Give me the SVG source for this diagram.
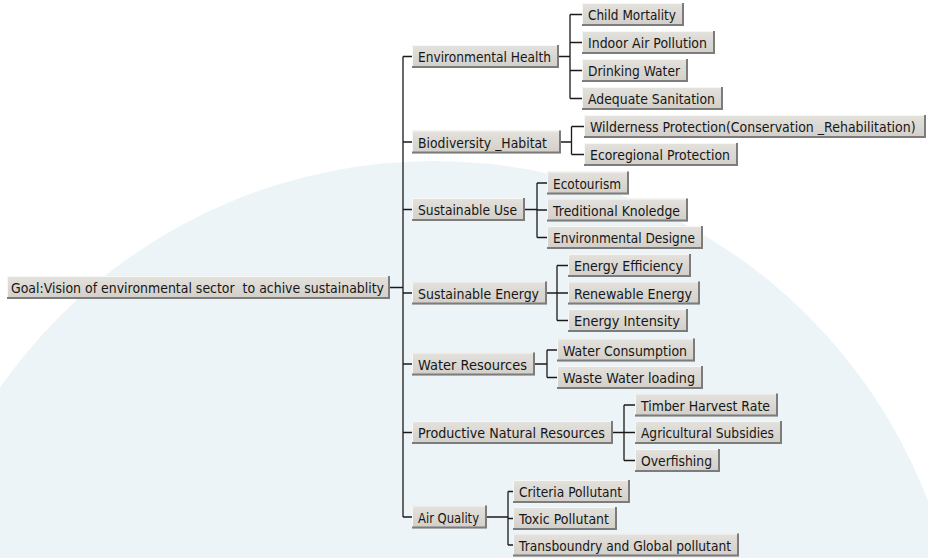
<svg xmlns="http://www.w3.org/2000/svg" width="928" height="558" viewBox="0 0 928 558">
<defs>
<linearGradient id="g" x1="0" y1="0" x2="0" y2="1">
<stop offset="0" stop-color="#e4e2de"/>
<stop offset="1" stop-color="#d2cec8"/>
</linearGradient>
</defs>
<style>
.box{fill:url(#g)}
.hi{fill:none;stroke:#f7f7f5;stroke-width:1}
.sh{fill:none;stroke:#7c7c7c;stroke-width:2}
text{font-family:"DejaVu Sans","Liberation Sans",sans-serif;font-size:14px;fill:#161616}
.c{fill:none;stroke:#1a1a1a;stroke-width:1.3}
</style>
<rect width="928" height="558" fill="#ffffff"/>
<circle cx="434" cy="690" r="529" fill="#edf4f8"/>

<g id="connectors">
<path class="c" d="M390,287.5H403M403,56.5V517M403,56.5H412M403,142H412M403,209.5H412M403,293H412M403,364H412M403,432.5H412M403,517H412"/>
<path class="c" d="M559,56.5H570M570,14.5V98.5M570,14.5H582M570,42.5H582M570,70.5H582M570,98.5H582"/>
<path class="c" d="M561,142H571.5M571.5,126.5V154.5M571.5,126.5H584M571.5,154.5H584"/>
<path class="c" d="M525,209.5H537M537,183V237.5M537,183H547M537,210H547M537,237.5H547"/>
<path class="c" d="M547,293H557M557,265.5V320.5M557,265.5H568M557,293H568M557,320.5H568"/>
<path class="c" d="M535,364H547M547,350V377.5M547,350H557M547,377.5H557"/>
<path class="c" d="M613,432.5H624M624,405V460.5M624,405H635M624,432.5H635M624,460.5H635"/>
<path class="c" d="M487,517H508M508,491.5V545M508,491.5H513M508,518.5H513M508,545H513"/>
</g>

<g id="root" transform="translate(7,276)"><rect class="box" width="383" height="23"/><path class="hi" d="M0.5,22V0.5H382"/><path class="sh" d="M382,0V22H0"/><text x="4" y="17" textLength="373" lengthAdjust="spacingAndGlyphs" style="white-space:pre">Goal:Vision of environmental sector  to achive sustainablity</text></g>

<g id="environmental-health" transform="translate(412,45)"><rect class="box" width="147" height="23"/><path class="hi" d="M0.5,22V0.5H146"/><path class="sh" d="M146,0V22H0"/><text x="6" y="17" textLength="133" lengthAdjust="spacingAndGlyphs">Environmental Health</text></g>
<g id="child-mortality" transform="translate(582,3)"><rect class="box" width="102" height="23"/><path class="hi" d="M0.5,22V0.5H101"/><path class="sh" d="M101,0V22H0"/><text x="6" y="17" textLength="88" lengthAdjust="spacingAndGlyphs">Child Mortality</text></g>
<g id="indoor-air-pollution" transform="translate(582,31)"><rect class="box" width="133" height="23"/><path class="hi" d="M0.5,22V0.5H132"/><path class="sh" d="M132,0V22H0"/><text x="6" y="17" textLength="119" lengthAdjust="spacingAndGlyphs">Indoor Air Pollution</text></g>
<g id="drinking-water" transform="translate(582,59)"><rect class="box" width="106" height="23"/><path class="hi" d="M0.5,22V0.5H105"/><path class="sh" d="M105,0V22H0"/><text x="6" y="17" textLength="92" lengthAdjust="spacingAndGlyphs">Drinking Water</text></g>
<g id="adequate-sanitation" transform="translate(582,87)"><rect class="box" width="141" height="23"/><path class="hi" d="M0.5,22V0.5H140"/><path class="sh" d="M140,0V22H0"/><text x="6" y="17" textLength="127" lengthAdjust="spacingAndGlyphs">Adequate Sanitation</text></g>

<g id="biodiversity-habitat" transform="translate(412,130.5)"><rect class="box" width="149" height="23"/><path class="hi" d="M0.5,22V0.5H148"/><path class="sh" d="M148,0V22H0"/><text x="6" y="17" textLength="129" lengthAdjust="spacingAndGlyphs">Biodiversity _Habitat</text></g>
<g id="wilderness-protection" transform="translate(584,115)"><rect class="box" width="342" height="23"/><path class="hi" d="M0.5,22V0.5H341"/><path class="sh" d="M341,0V22H0"/><text transform="scale(0.8,1)" x="7.5" y="17" textLength="407" lengthAdjust="spacingAndGlyphs">Wilderness Protection(Conservation _Rehabilitation)</text></g>
<g id="ecoregional-protection" transform="translate(584,143)"><rect class="box" width="154" height="23"/><path class="hi" d="M0.5,22V0.5H153"/><path class="sh" d="M153,0V22H0"/><text x="6" y="17" textLength="140" lengthAdjust="spacingAndGlyphs">Ecoregional Protection</text></g>

<g id="sustainable-use" transform="translate(412,198)"><rect class="box" width="113" height="23"/><path class="hi" d="M0.5,22V0.5H112"/><path class="sh" d="M112,0V22H0"/><text x="6" y="17" textLength="99" lengthAdjust="spacingAndGlyphs">Sustainable Use</text></g>
<g id="ecotourism" transform="translate(547,171.5)"><rect class="box" width="82" height="23"/><path class="hi" d="M0.5,22V0.5H81"/><path class="sh" d="M81,0V22H0"/><text x="6" y="17" textLength="68" lengthAdjust="spacingAndGlyphs">Ecotourism</text></g>
<g id="treditional-knoledge" transform="translate(547,198.5)"><rect class="box" width="141" height="23"/><path class="hi" d="M0.5,22V0.5H140"/><path class="sh" d="M140,0V22H0"/><text x="6" y="17" textLength="127" lengthAdjust="spacingAndGlyphs">Treditional Knoledge</text></g>
<g id="environmental-designe" transform="translate(547,226)"><rect class="box" width="156" height="23"/><path class="hi" d="M0.5,22V0.5H155"/><path class="sh" d="M155,0V22H0"/><text x="6" y="17" textLength="142" lengthAdjust="spacingAndGlyphs">Environmental Designe</text></g>

<g id="sustainable-energy" transform="translate(412,281.5)"><rect class="box" width="135" height="23"/><path class="hi" d="M0.5,22V0.5H134"/><path class="sh" d="M134,0V22H0"/><text x="6" y="17" textLength="121" lengthAdjust="spacingAndGlyphs">Sustainable Energy</text></g>
<g id="energy-efficiency" transform="translate(568,254)"><rect class="box" width="123" height="23"/><path class="hi" d="M0.5,22V0.5H122"/><path class="sh" d="M122,0V22H0"/><text x="6" y="17" textLength="109" lengthAdjust="spacingAndGlyphs">Energy Efficiency</text></g>
<g id="renewable-energy" transform="translate(568,281.5)"><rect class="box" width="132" height="23"/><path class="hi" d="M0.5,22V0.5H131"/><path class="sh" d="M131,0V22H0"/><text x="6" y="17" textLength="118" lengthAdjust="spacingAndGlyphs">Renewable Energy</text></g>
<g id="energy-intensity" transform="translate(568,309)"><rect class="box" width="120" height="23"/><path class="hi" d="M0.5,22V0.5H119"/><path class="sh" d="M119,0V22H0"/><text x="6" y="17" textLength="106" lengthAdjust="spacingAndGlyphs">Energy Intensity</text></g>

<g id="water-resources" transform="translate(412,352.5)"><rect class="box" width="123" height="23"/><path class="hi" d="M0.5,22V0.5H122"/><path class="sh" d="M122,0V22H0"/><text x="6" y="17" textLength="109" lengthAdjust="spacingAndGlyphs">Water Resources</text></g>
<g id="water-consumption" transform="translate(557,338.5)"><rect class="box" width="138" height="23"/><path class="hi" d="M0.5,22V0.5H137"/><path class="sh" d="M137,0V22H0"/><text x="6" y="17" textLength="124" lengthAdjust="spacingAndGlyphs">Water Consumption</text></g>
<g id="waste-water-loading" transform="translate(557,366)"><rect class="box" width="146" height="23"/><path class="hi" d="M0.5,22V0.5H145"/><path class="sh" d="M145,0V22H0"/><text x="6" y="17" textLength="132" lengthAdjust="spacingAndGlyphs">Waste Water loading</text></g>

<g id="productive-natural-resources" transform="translate(412,421)"><rect class="box" width="201" height="23"/><path class="hi" d="M0.5,22V0.5H200"/><path class="sh" d="M200,0V22H0"/><text x="6" y="17" textLength="187" lengthAdjust="spacingAndGlyphs">Productive Natural Resources</text></g>
<g id="timber-harvest-rate" transform="translate(635,393.5)"><rect class="box" width="143" height="23"/><path class="hi" d="M0.5,22V0.5H142"/><path class="sh" d="M142,0V22H0"/><text x="6" y="17" textLength="129" lengthAdjust="spacingAndGlyphs">Timber Harvest Rate</text></g>
<g id="agricultural-subsidies" transform="translate(635,421)"><rect class="box" width="147" height="23"/><path class="hi" d="M0.5,22V0.5H146"/><path class="sh" d="M146,0V22H0"/><text x="6" y="17" textLength="133" lengthAdjust="spacingAndGlyphs">Agricultural Subsidies</text></g>
<g id="overfishing" transform="translate(635,449)"><rect class="box" width="85" height="23"/><path class="hi" d="M0.5,22V0.5H84"/><path class="sh" d="M84,0V22H0"/><text x="6" y="17" textLength="71" lengthAdjust="spacingAndGlyphs">Overfishing</text></g>

<g id="air-quality" transform="translate(412,505.5)"><rect class="box" width="75" height="23"/><path class="hi" d="M0.5,22V0.5H74"/><path class="sh" d="M74,0V22H0"/><text x="6" y="17" textLength="61" lengthAdjust="spacingAndGlyphs">Air Quality</text></g>
<g id="criteria-pollutant" transform="translate(513,480)"><rect class="box" width="117" height="23"/><path class="hi" d="M0.5,22V0.5H116"/><path class="sh" d="M116,0V22H0"/><text x="6" y="17" textLength="103" lengthAdjust="spacingAndGlyphs">Criteria Pollutant</text></g>
<g id="toxic-pollutant" transform="translate(513,507)"><rect class="box" width="104" height="23"/><path class="hi" d="M0.5,22V0.5H103"/><path class="sh" d="M103,0V22H0"/><text x="6" y="17" textLength="90" lengthAdjust="spacingAndGlyphs">Toxic Pollutant</text></g>
<g id="transboundry-global-pollutant" transform="translate(513,533.5)"><rect class="box" width="226" height="23"/><path class="hi" d="M0.5,22V0.5H225"/><path class="sh" d="M225,0V22H0"/><text x="6" y="17" textLength="212" lengthAdjust="spacingAndGlyphs">Transboundry and Global pollutant</text></g>
</svg>
